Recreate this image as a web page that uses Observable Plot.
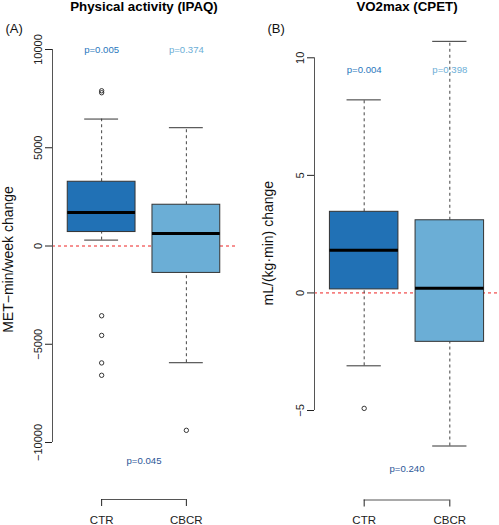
<!DOCTYPE html>
<html>
<head>
<meta charset="utf-8">
<script src="https://cdn.jsdelivr.net/npm/d3@7"></script>
<script src="https://cdn.jsdelivr.net/npm/@observablehq/plot@0.6"></script>
<style>
  html, body { margin: 0; padding: 0; background: #fff; }
  #chart { position: relative; width: 499px; height: 525px; display: flex; font-family: "Liberation Sans", Arial, sans-serif; }
  #chart svg { display: block; overflow: visible; }
</style>
</head>
<body>
<div id="chart"></div>
<script>
// ---------- data ----------
const groups = ["CTR", "CBCR"];
const boxFills = ["#2171b5", "#6baed6"];
const pColors = ["#2a78bd", "#6baed6"];
const pBetweenColor = "#2c5597";

// Panel A: Physical activity (IPAQ), MET-min/week change
const ipaqLow = [300, -5940];
const ipaqQ1 = [710, -1370];
const ipaqMedian = [1710, 630];
const ipaqQ3 = [3270, 2100];
const ipaqHigh = [6460, 6020];
const ipaqOutliersCTR = [7800, 7900, -3550, -4550, -5950, -6580];
const ipaqOutliersCBCR = [-9380];
const ipaqTicks = [-10000, -5000, 0, 5000, 10000];
const ipaqTickLabels = ["\u221210000", "\u22125000", "0", "5000", "10000"];
const ipaqPWithin = ["p=0.005", "p=0.374"];
const ipaqPBetween = "p=0.045";

// Panel B: VO2max (CPET), mL/(kg·min) change
const vo2Low = [-3.1, -6.51];
const vo2Q1 = [0.15, -2.08];
const vo2Median = [1.81, 0.2];
const vo2Q3 = [3.45, 3.09];
const vo2High = [8.21, 10.7];
const vo2OutliersCTR = [-4.91];
const vo2OutliersCBCR = [];
const vo2Ticks = [-5, 0, 5, 10];
const vo2TickLabels = ["\u22125", "0", "5", "10"];
const vo2PWithin = ["p=0.004", "p=0.398"];
const vo2PBetween = "p=0.240";

// ---------- helpers ----------
const FONT = "Liberation Sans, Arial, sans-serif";

function panel(cfg) {
  const boxes = groups.map((g, i) => ({
    pos: i + 1, group: g, fill: boxFills[i], pColor: pColors[i],
    lo: cfg.low[i], q1: cfg.q1[i], med: cfg.median[i], q3: cfg.q3[i], hi: cfg.high[i],
    p: cfg.pWithin[i]
  }));
  const outliers = [
    ...cfg.outCTR.map(v => ({pos: 1, v})),
    ...cfg.outCBCR.map(v => ({pos: 2, v}))
  ];
  const tickLabel = d => cfg.tickLabels[cfg.ticks.indexOf(d)];
  const yMin = cfg.ticks[0], yMax = cfg.ticks[cfg.ticks.length - 1];

  return Plot.plot({
    width: cfg.width,
    height: 525,
    marginLeft: cfg.marginLeft,
    marginRight: cfg.marginRight,
    marginTop: cfg.marginTop,
    marginBottom: cfg.marginBottom,
    style: {fontFamily: FONT, background: "white", overflow: "visible"},
    x: {domain: [0.42, 2.58]},
    y: {domain: [yMin, yMax]},
    marks: [
      // zero reference
      Plot.ruleY([0], {stroke: "#ee2222", strokeWidth: 1, strokeDasharray: "3,3"}),
      // y axis line
      Plot.ruleX([0.42], {y1: yMin, y2: yMax, stroke: "#555", strokeWidth: 1}),
      Plot.axisY({anchor: "left", ticks: cfg.ticks, tickFormat: tickLabel, tickSize: 7, tickPadding: 4,
                  tickRotate: -90, fontSize: 11, color: "#222", label: null}),
      // x axis (bracket)
      Plot.ruleY([yMin], {x1: 1, x2: 2, dy: cfg.bracketDy, stroke: "#555", strokeWidth: 1}),
      Plot.axisX({anchor: "bottom", ticks: [1, 2], tickFormat: d => groups[d - 1], tickSize: 7, tickPadding: 9,
                  dy: cfg.bracketDy, fontSize: 11.5, color: "#222", label: null}),
      // whiskers
      Plot.ruleX(boxes, {x: "pos", y1: "q3", y2: "hi", stroke: "#444", strokeDasharray: "3,3"}),
      Plot.ruleX(boxes, {x: "pos", y1: "lo", y2: "q1", stroke: "#444", strokeDasharray: "3,3"}),
      Plot.ruleY(boxes, {y: "hi", x1: d => d.pos - 0.2, x2: d => d.pos + 0.2, stroke: "#333"}),
      Plot.ruleY(boxes, {y: "lo", x1: d => d.pos - 0.2, x2: d => d.pos + 0.2, stroke: "#333"}),
      // boxes
      Plot.rect(boxes, {x1: d => d.pos - 0.4, x2: d => d.pos + 0.4, y1: "q1", y2: "q3",
                        fill: "fill", stroke: "#333", strokeWidth: 1}),
      Plot.ruleY(boxes, {y: "med", x1: d => d.pos - 0.4, x2: d => d.pos + 0.4, stroke: "#000", strokeWidth: 3}),
      // outliers
      Plot.dot(outliers, {x: "pos", y: "v", r: 2.2, stroke: "#222", strokeWidth: 0.9, fill: "none"}),
      // p values
      Plot.text(boxes, {x: "pos", y: () => cfg.pY, text: "p", fill: "pColor", fontSize: 9.6}),
      Plot.text([cfg.pBetween], {x: () => 1.5, y: () => cfg.pBetweenY, text: d => d, fill: pBetweenColor, fontSize: 9.6}),
      // y label
      Plot.text([cfg.yLabel], {frameAnchor: "left", text: d => d, rotate: -90, textAnchor: "middle", lineAnchor: "middle",
                               dx: cfg.yLabelDx, dy: cfg.yLabelDy, fontSize: 14, fill: "#111"}),
      // title
      Plot.text([cfg.title], {frameAnchor: "top", text: d => d, dy: cfg.titleDy, fontSize: 13.3,
                              textAnchor: "middle", lineAnchor: "middle", fontWeight: "bold", fill: "#000"}),
      // panel letter
      Plot.text([cfg.letter], {frameAnchor: "top-left", text: d => d, dx: -47, dy: cfg.letterDy,
                               textAnchor: "start", lineAnchor: "middle", fontSize: 13, fill: "#111"})
    ]
  });
}

const chart = document.getElementById("chart");
chart.append(panel({
  width: 250, marginLeft: 52, marginRight: 15, marginTop: 49, marginBottom: 83,
  low: ipaqLow, q1: ipaqQ1, median: ipaqMedian, q3: ipaqQ3, high: ipaqHigh,
  outCTR: ipaqOutliersCTR, outCBCR: ipaqOutliersCBCR,
  ticks: ipaqTicks, tickLabels: ipaqTickLabels,
  pWithin: ipaqPWithin, pBetween: ipaqPBetween, pY: 10000, pBetweenY: -10950,
  bracketDy: 57, yLabel: "MET\u2212min/week change", yLabelDx: -44, yLabelDy: 13.5,
  title: "Physical activity (IPAQ)", titleDy: -43, letter: "(A)", letterDy: -21
}));
chart.append(panel({
  width: 249, marginLeft: 64, marginRight: 0, marginTop: 57.3, marginBottom: 115,
  low: vo2Low, q1: vo2Q1, median: vo2Median, q3: vo2Q3, high: vo2High,
  outCTR: vo2OutliersCTR, outCBCR: vo2OutliersCBCR,
  ticks: vo2Ticks, tickLabels: vo2TickLabels,
  pWithin: vo2PWithin, pBetween: vo2PBetween, pY: 9.5, pBetweenY: -7.5,
  bracketDy: 89.5, yLabel: "mL/(kg\u00b7min) change", yLabelDx: -46, yLabelDy: 9,
  title: "VO2max (CPET)", titleDy: -51.3, letter: "(B)", letterDy: -29.3
}));
</script>
</body>
</html>
